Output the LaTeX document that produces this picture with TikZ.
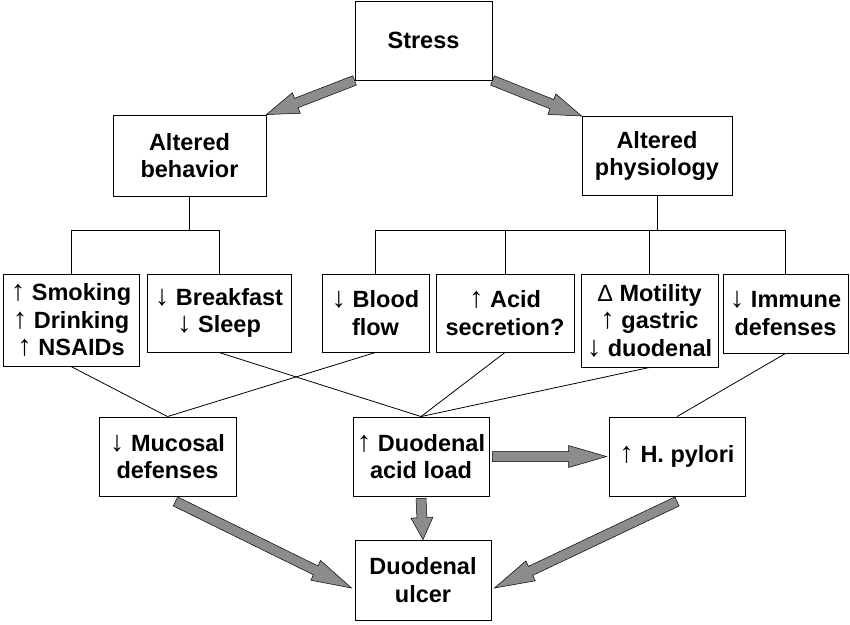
\documentclass[tikz,border=0pt]{standalone}
\usepackage{fontspec}
\setmainfont{Liberation Sans}
\usetikzlibrary{calc}
\tikzstyle{box}=[rectangle,draw=black,line width=0.9pt,fill=white,align=center,
  inner sep=0pt,font=\bfseries\fontsize{23.5}{27.5}\selectfont]
\tikzstyle{link}=[draw=black,line width=0.8pt]
\tikzstyle{fatarr}=[draw=black,line width=0.5pt,fill=black!45,line join=miter]
\newcommand{\incr}{{\mdseries\fontsize{29}{27.5}\selectfont ↑}}
\newcommand{\decr}{{\mdseries\fontsize{29}{27.5}\selectfont ↓}}
\newcommand{\fatarrow}[3][32]{%
  \coordinate (fatA) at (#2);
  \coordinate (fatB) at (#3);
  \coordinate (fatH) at ($(fatB)!#1pt!(fatA)$);
  \filldraw[fatarr] ($(fatA)!5pt!90:(fatB)$) -- ($(fatH)!5pt!90:(fatB)$)
    -- ($(fatH)!11pt!90:(fatB)$) -- (fatB) -- ($(fatH)!11pt!-90:(fatB)$)
    -- ($(fatH)!5pt!-90:(fatB)$) -- ($(fatA)!5pt!-90:(fatB)$) -- cycle;
}

\begin{document}
\begin{tikzpicture}[x=1pt,y=-1pt]
        \useasboundingbox[fill=white] (0,0) rectangle (850,624);
        \node [style=box,minimum width=137pt,minimum height=79pt] (stress) at (423.5,40.5) {Stress};
        \node [style=box,minimum width=153pt,minimum height=81pt] (behav) at (189.5,155.5) {Altered\\behavior};
        \node [style=box,minimum width=150pt,minimum height=79pt] (physio) at (657,156) {Altered\\physiology};
        \node [style=box,minimum width=136pt,minimum height=92pt] (smoke) at (71,320) {\incr\ Smoking\\\incr\ Drinking\\\incr\ NSAIDs};
        \node [style=box,minimum width=144pt,minimum height=78pt] (bfast) at (219,313) {\decr\ Breakfast\\\decr\ Sleep};
        \node [style=box,minimum width=107pt,minimum height=78pt] (blood) at (375.5,313) {\decr\ Blood\\flow};
        \node [style=box,minimum width=138pt,minimum height=78pt] (acid) at (505,313) {\incr\ Acid\\secretion?};
        \node [style=box,minimum width=137pt,minimum height=93pt] (motil) at (649.5,320.5) {{\mdseries Δ} Motility\\\incr\ gastric\\\decr\ duodenal};
        \node [style=box,minimum width=125pt,minimum height=79pt] (immune) at (785.5,313.5) {\decr\ Immune\\defenses};
        \node [style=box,minimum width=137pt,minimum height=79pt] (mucosa) at (167.5,456.5) {\decr\ Mucosal\\defenses};
        \node [style=box,minimum width=136pt,minimum height=79pt] (acidload) at (421,456.5) {\incr\ Duodenal\\acid load};
        \node [style=box,minimum width=136pt,minimum height=79pt] (hpylori) at (677,456.5) {\incr\ H. pylori};
        \node [style=box,minimum width=136pt,minimum height=80pt] (ulcer) at (423,580) {Duodenal\\ulcer};
        \coordinate (bus) at (0,230);
        \draw [style=link] (behav.south) to (behav.south |- bus);
        \draw [style=link] (smoke.north) -- (smoke.north |- bus) -| (bfast.north);
        \draw [style=link] (physio.south) to (physio.south |- bus);
        \draw [style=link] (blood.north) -- (blood.north |- bus) -| (immune.north);
        \draw [style=link] (acid.north) to (acid.north |- bus);
        \draw [style=link] (motil.north) to (motil.north |- bus);
        \draw [style=link] (smoke.south) to (mucosa.north);
        \draw [style=link] (blood.south) to (mucosa.north);
        \draw [style=link] (bfast.south) to (acidload.north);
        \draw [style=link] (acid.south) to (acidload.north);
        \draw [style=link] (motil.south) to (acidload.north);
        \draw [style=link] (immune.south) to (hpylori.north);
        \fatarrow{stress.south west}{behav.north east}
        \fatarrow{stress.south east}{physio.north west}
        \fatarrow[38]{[xshift=3pt]acidload.east}{[xshift=-2pt]hpylori.west}
        \fatarrow[22]{[yshift=-2pt]acidload.south}{ulcer.north}
        \fatarrow[40]{[xshift=8pt,yshift=-5pt]mucosa.south}{[xshift=-3pt,yshift=-8pt]ulcer.west}
        \fatarrow[40]{[yshift=-5pt]hpylori.south}{[xshift=3pt,yshift=-8pt]ulcer.east}
    \end{tikzpicture}
\end{document}
